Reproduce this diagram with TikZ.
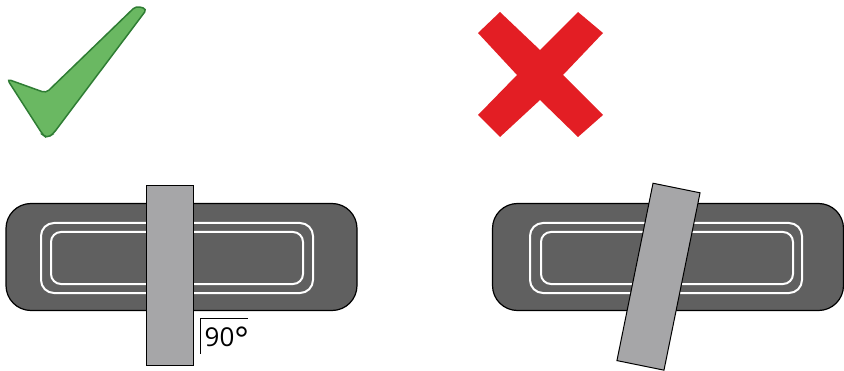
\documentclass[tikz,border=0pt]{standalone}
\usepackage{fontspec}
\setmainfont{Open Sans}
\usepackage{tikz}
\usetikzlibrary{positioning,calc}
\definecolor{padgray}{HTML}{606060}
\definecolor{strapgray}{HTML}{A6A6A8}
\definecolor{okgreen}{HTML}{6AB862}
\definecolor{okdark}{HTML}{2F7D34}
\definecolor{badred}{HTML}{E31E24}

\begin{document}
\begin{tikzpicture}[x=1pt,y=1pt,
pad/.style={draw=black,fill=padgray,line width=1.2pt,rounded corners=25pt,minimum width=351pt,minimum height=107pt,inner sep=0pt},
ring/.style={draw=white,line width=2pt,inner sep=0pt},
strap/.style={draw=black,fill=strapgray,line width=1pt,minimum width=47pt,minimum height=179pt,inner sep=0pt}]
\useasboundingbox (0,0) rectangle (844,370);
% good: strap at right angle
\node[pad] (padL) at (181.5,113) {};
\node[ring,rounded corners=13pt,minimum width=272pt,minimum height=70pt] (ringLo) at (177,112) {};
\node[ring,rounded corners=10pt,minimum width=252pt,minimum height=52pt] (ringLi) at (177,112) {};
\node[strap] (strapL) at (169.5,94.5) {};
\draw[line width=0.8pt] (strapL.south east)++(7,12) coordinate (angA) -- ++(0,35) coordinate (angB) -- ++(47,0);
\node[anchor=south west,inner sep=0pt,font=\fontsize{26}{26}\selectfont] (deg) at ($(angA)+(4,2)$) {90\raisebox{-5pt}{\fontsize{34}{34}\selectfont°}};
% bad: strap at an angle
\node[pad] (padR) at (668,113) {};
\node[ring,rounded corners=13pt,minimum width=272pt,minimum height=70pt] (ringRo) at (666,112) {};
\node[ring,rounded corners=10pt,minimum width=252pt,minimum height=52pt] (ringRi) at (667,112) {};
\node[strap,rotate=-11.5,minimum height=181pt,minimum width=48pt] (strapR) at (658.5,93.3) {};
% tick and cross
\draw[okdark,fill=okgreen,line width=1.5pt,rounded corners=4pt]
  (7,291) -- (46,277) -- (136,364) -- (147,361) -- (53,236) -- (47,232) -- (43,235) -- cycle;
\fill[badred] (478,337) -- (500,358) -- (540,320) -- (578,358) -- (603,337) -- (563,295)
  -- (603,255) -- (578,233) -- (540,270) -- (500,233) -- (478,255) -- (517,295) -- cycle;
\end{tikzpicture}
\end{document}
